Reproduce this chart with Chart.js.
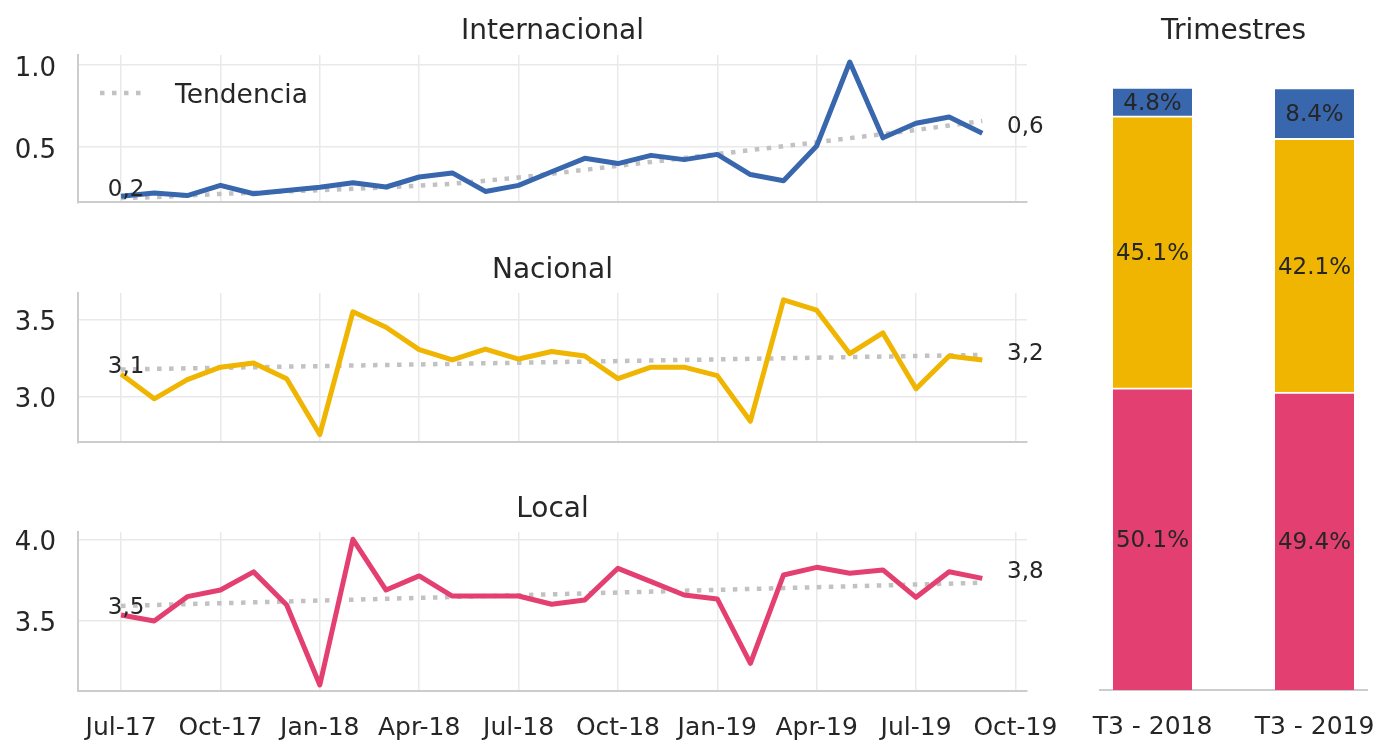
<!DOCTYPE html>
<html>
<head>
<meta charset="utf-8">
<script src="https://cdn.jsdelivr.net/npm/chart.js@4/dist/chart.umd.min.js"></script>
<style>
  html, body { margin: 0; padding: 0; background: #fff; }
  #wrap { position: relative; width: 1380px; height: 744px; overflow: hidden; }
  canvas { position: absolute; }
</style>
</head>
<body>
<div id="wrap">
  <canvas id="intl" width="1090" height="240" style="left:0;top:0"></canvas>
  <canvas id="nac" width="1090" height="240" style="left:0;top:240px"></canvas>
  <canvas id="local" width="1090" height="264" style="left:0;top:480px"></canvas>
  <canvas id="quarters" width="380" height="744" style="left:1060px;top:0"></canvas>
</div>
<script>
// monthly axis labels, Jul-17 .. Oct-19 (data runs to Sep-19)
const months = ['Jul-17', 'Aug-17', 'Sep-17', 'Oct-17', 'Nov-17', 'Dec-17',
  'Jan-18', 'Feb-18', 'Mar-18', 'Apr-18', 'May-18', 'Jun-18',
  'Jul-18', 'Aug-18', 'Sep-18', 'Oct-18', 'Nov-18', 'Dec-18',
  'Jan-19', 'Feb-19', 'Mar-19', 'Apr-19', 'May-19', 'Jun-19',
  'Jul-19', 'Aug-19', 'Sep-19', 'Oct-19'];
const quarterIdx = [0, 3, 6, 9, 12, 15, 18, 21, 24, 27];

const internacional = [0.20, 0.22, 0.205, 0.267, 0.216, 0.235, 0.255, 0.283, 0.257, 0.318,
  0.343, 0.23, 0.267, 0.35, 0.432, 0.40, 0.45, 0.424, 0.456, 0.333,
  0.295, 0.507, 1.02, 0.557, 0.646, 0.684, 0.585];
const internacionalTrend = [0.19, 0.195, 0.205, 0.215, 0.222, 0.23, 0.238, 0.246, 0.255, 0.265,
  0.277, 0.295, 0.315, 0.338, 0.362, 0.386, 0.41, 0.434, 0.458, 0.482,
  0.506, 0.53, 0.555, 0.58, 0.605, 0.632, 0.66];

const nacional = [3.146, 2.984, 3.109, 3.19, 3.217, 3.115, 2.751, 3.551, 3.45, 3.304,
  3.237, 3.308, 3.243, 3.292, 3.263, 3.115, 3.19, 3.19, 3.135, 2.838,
  3.628, 3.561, 3.278, 3.413, 3.049, 3.263, 3.237];
const nacionalTrend = [3.175, 3.27];   // straight line, first to last month

const local = [3.534, 3.497, 3.647, 3.688, 3.80, 3.596, 3.102, 4.001, 3.688, 3.775,
  3.651, 3.651, 3.651, 3.60, 3.627, 3.822, 3.74, 3.657, 3.633, 3.236,
  3.781, 3.828, 3.791, 3.812, 3.643, 3.801, 3.76];
const localTrend = [3.59, 3.733];

const quarters = ['T3 - 2018', 'T3 - 2019'];
const shareLocal = [50.1, 49.4];
const shareNacional = [45.1, 42.1];
const shareInternacional = [4.8, 8.4];

const BLUE = '#3867ae';
const YELLOW = '#efb500';
const PINK = '#e33f70';
const TREND = '#c2c2c2';
const GRID = '#e9e9e9';
const SPINE = '#cccccc';
const TEXT = '#262626';
const FONT = '"DejaVu Sans", sans-serif';

const comma = v => v.toFixed(1).replace('.', ',');

// title, first/last value labels and legend for each line panel
const panelText = {
  id: 'panelText',
  afterDatasetsDraw(chart, args, opts) {
    const ctx = chart.ctx;
    const area = chart.chartArea;
    ctx.save();
    ctx.fillStyle = TEXT;
    ctx.textBaseline = 'alphabetic';

    ctx.font = '28px ' + FONT;
    ctx.textAlign = 'center';
    ctx.fillText(opts.title, (area.left + area.right) / 2, opts.titleY);

    const pts = chart.getDatasetMeta(0).data;
    const vals = chart.data.datasets[0].data;
    const first = pts[0], last = pts[pts.length - 1];
    ctx.font = '23px ' + FONT;
    ctx.fillText(comma(vals[0].y), first.x + 5, first.y - 0.5);
    ctx.fillText(comma(vals[vals.length - 1].y), last.x + 43, last.y);

    if (opts.legend) {
      ctx.strokeStyle = TREND;
      ctx.lineWidth = 4.5;
      ctx.setLineDash([4.5, 7.5]);
      ctx.beginPath();
      ctx.moveTo(100, 93);
      ctx.lineTo(148, 93);
      ctx.stroke();
      ctx.setLineDash([]);
      ctx.font = '26.5px ' + FONT;
      ctx.textAlign = 'left';
      ctx.fillText('Tendencia', 175, 102.5);
    }
    ctx.restore();
  }
};

function linePanel(id, p) {
  const trendX = p.trend.length === 2 ? [0, p.values.length - 1] : p.trend.map((v, i) => i);
  new Chart(document.getElementById(id), {
    type: 'line',
    data: {
      datasets: [
        {
          data: p.values.map((v, i) => ({ x: i, y: v })),
          borderColor: p.color,
          borderWidth: 5,
          borderJoinStyle: 'round',
          pointRadius: 0,
          order: 1
        },
        {
          data: p.trend.map((v, i) => ({ x: trendX[i], y: v })),
          borderColor: TREND,
          borderWidth: 4.5,
          borderDash: [4.5, 7.5],
          borderCapStyle: 'butt',
          pointRadius: 0,
          order: 2
        }
      ]
    },
    options: {
      responsive: false,
      animation: false,
      layout: { padding: { left: 0, right: 63, top: p.padTop, bottom: 0 } },
      plugins: {
        legend: { display: false },
        tooltip: { enabled: false },
        panelText: { title: p.title, titleY: p.titleY, legend: p.legend }
      },
      scales: {
        x: {
          type: 'linear',
          min: -1.3,
          max: 27.35,
          afterBuildTicks: s => { s.ticks = quarterIdx.map(v => ({ value: v })); },
          afterFit: s => { s.height = p.xHeight; },
          grid: { color: GRID, lineWidth: 1.5, drawTicks: false },
          border: { color: SPINE, width: 2 },
          ticks: {
            display: p.showX,
            autoSkip: false,
            maxRotation: 0,
            padding: 22,
            color: TEXT,
            font: { family: FONT, size: 25 },
            callback: v => months[v]
          }
        },
        y: {
          min: p.min,
          max: p.max,
          afterBuildTicks: s => { s.ticks = p.ticks.map(v => ({ value: v })); },
          afterFit: s => { s.width = 78; },
          grid: { color: GRID, lineWidth: 1.5, drawTicks: false },
          border: { color: SPINE, width: 2 },
          ticks: {
            padding: 22,
            labelOffset: 4,
            color: TEXT,
            font: { family: FONT, size: 26 },
            callback: v => v.toFixed(1)
          }
        }
      }
    },
    plugins: [panelText]
  });
}

linePanel('intl', {
  title: 'Internacional', titleY: 38.5, legend: true,
  values: internacional, trend: internacionalTrend, color: BLUE,
  min: 0.163, max: 1.0625, ticks: [0.5, 1.0],
  padTop: 55, xHeight: 27, showX: false
});
linePanel('nac', {
  title: 'Nacional', titleY: 37.8, legend: false,
  values: nacional, trend: nacionalTrend, color: YELLOW,
  min: 2.70, max: 3.673, ticks: [3.0, 3.5],
  padTop: 53, xHeight: 27, showX: false
});
linePanel('local', {
  title: 'Local', titleY: 36.8, legend: false,
  values: local, trend: localTrend, color: PINK,
  min: 3.065, max: 4.046, ticks: [3.5, 4.0],
  padTop: 52, xHeight: 53, showX: true
});

// stacked share bars
const barText = {
  id: 'barText',
  afterDatasetsDraw(chart) {
    const ctx = chart.ctx;
    const area = chart.chartArea;
    ctx.save();
    ctx.fillStyle = TEXT;
    ctx.textAlign = 'center';
    ctx.textBaseline = 'alphabetic';
    ctx.font = '28px ' + FONT;
    ctx.fillText('Trimestres', (area.left + area.right) / 2, 38.5);
    ctx.font = '23px ' + FONT;
    chart.data.datasets.forEach((ds, di) => {
      chart.getDatasetMeta(di).data.forEach((bar, i) => {
        const { x, y, base } = bar.getProps(['x', 'y', 'base'], true);
        ctx.fillText(ds.data[i].y.toFixed(1) + '%', x, (y + base) / 2 + 8.4);
      });
    });
    ctx.restore();
  }
};

const toPoints = arr => arr.map((v, i) => ({ x: i, y: v }));
const barStyle = { barThickness: 79, borderColor: '#ffffff', borderWidth: { top: 2, bottom: 0, left: 0, right: 0 }, borderSkipped: false };

new Chart(document.getElementById('quarters'), {
  type: 'bar',
  data: {
    datasets: [
      Object.assign({ data: toPoints(shareLocal), backgroundColor: PINK }, barStyle),
      Object.assign({ data: toPoints(shareNacional), backgroundColor: YELLOW }, barStyle),
      Object.assign({ data: toPoints(shareInternacional), backgroundColor: BLUE }, barStyle)
    ]
  },
  options: {
    responsive: false,
    animation: false,
    layout: { padding: { left: 40, right: 73, top: 87, bottom: 0 } },
    plugins: { legend: { display: false }, tooltip: { enabled: false } },
    scales: {
      x: {
        type: 'linear',
        stacked: true,
        offset: false,
        min: -0.324,
        max: 1.324,
        afterBuildTicks: s => { s.ticks = quarters.map((q, i) => ({ value: i })); },
        afterFit: s => { s.height = 54; },
        grid: { display: false, offset: false, drawTicks: false },
        border: { color: SPINE, width: 2 },
        ticks: {
          autoSkip: false,
          maxRotation: 0,
          padding: 22,
          color: TEXT,
          font: { family: FONT, size: 25 },
          callback: v => quarters[v]
        }
      },
      y: { display: false, stacked: true, min: 0, max: 100 }
    }
  },
  plugins: [barText]
});
</script>
</body>
</html>
